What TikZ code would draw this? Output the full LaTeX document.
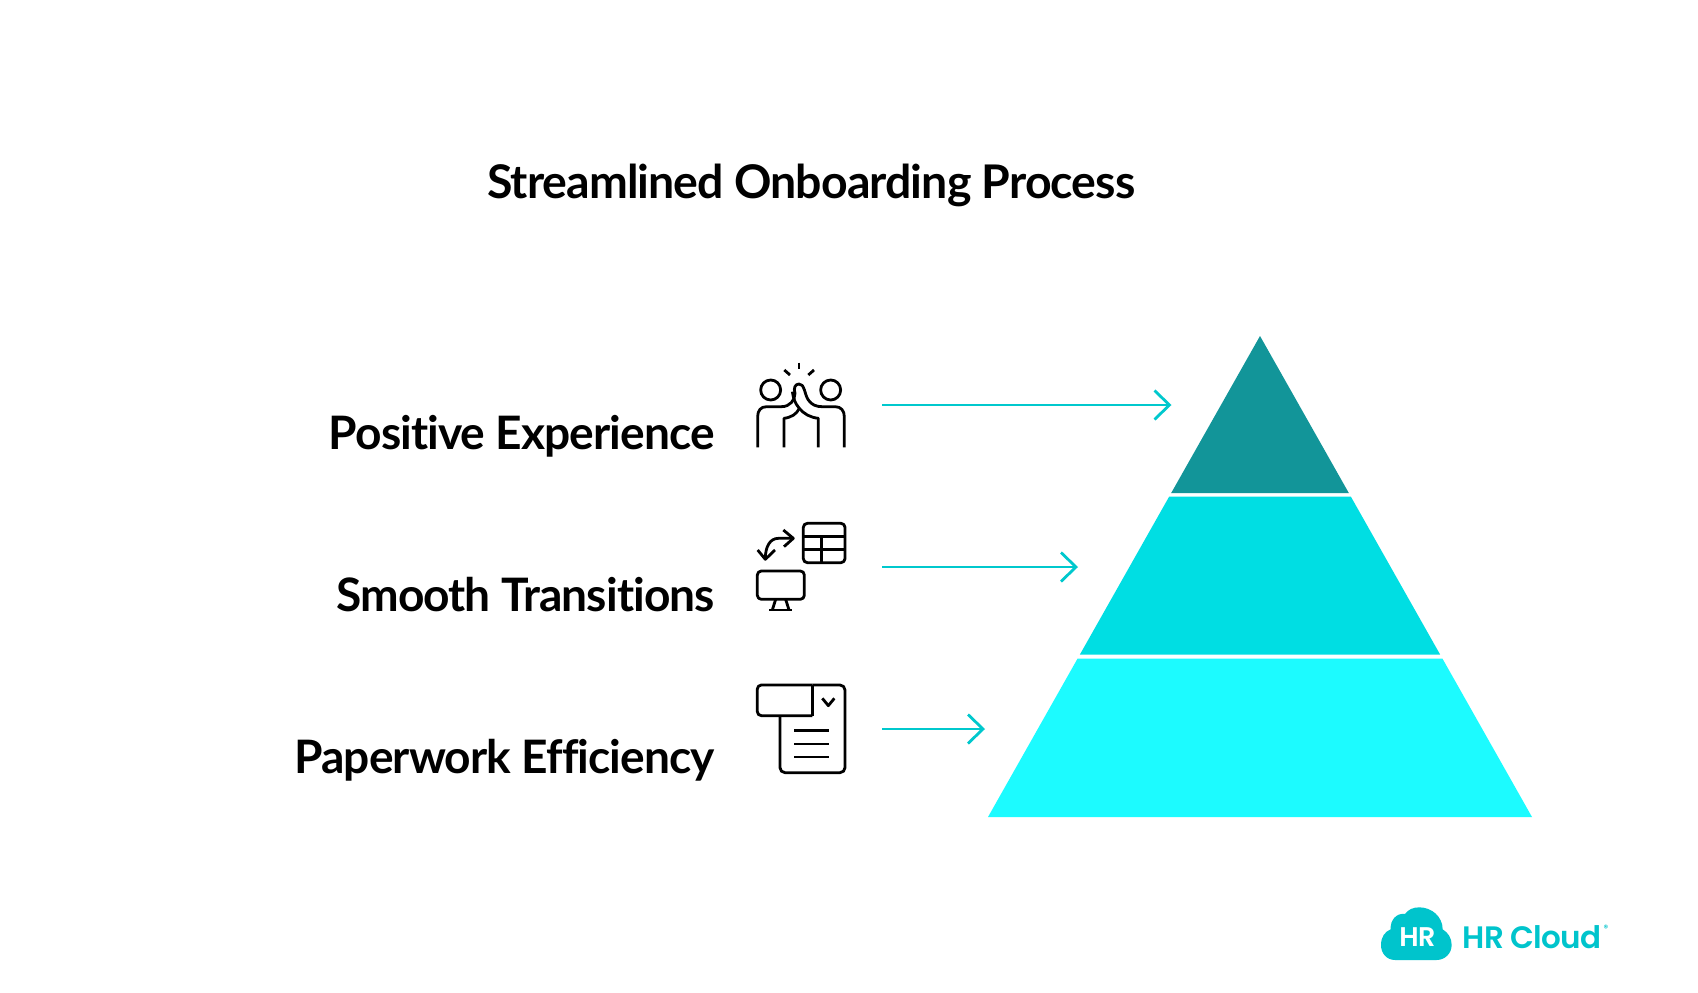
\documentclass[tikz,border=0pt]{standalone}
\usepackage{fontspec}
\setmainfont{Lato}[LetterSpace=-2.0, Ligatures=NoCommon]
\newfontfamily\logofont{Poppins SemiBold}[LetterSpace=-2.5]
\usetikzlibrary{arrows.meta, positioning}
\definecolor{logoteal}{RGB}{0,196,204}
\definecolor{arrowteal}{RGB}{0,200,205}
\definecolor{tierdark}{RGB}{18,149,153}
\definecolor{tiermid}{RGB}{0,222,227}
\definecolor{tierlight}{RGB}{28,251,255}
\tikzset{
    titletext/.style={anchor=base west, font=\bfseries\fontsize{46.4}{50}\selectfont, text=black, inner sep=0pt},
    labeltext/.style={anchor=base east, font=\bfseries\fontsize{46.1}{50}\selectfont, text=black, inner sep=0pt},
    iconline/.style={line width=2.8pt, black, line join=round},
    pointer/.style={line width=2.8pt, arrowteal, -{Straight Barb[length=15pt, width=29pt, line width=2.8pt]}}
}

\begin{document}
\begin{tikzpicture}[x=1pt, y=-1pt]
    \useasboundingbox (0,0) rectangle (1698,993);
    \fill[white] (0,0) rectangle (1698,993);

    % Title
    \node[titletext] (title) at (487,198) {Streamlined Onboarding Process};

    % Pyramid
    \fill[tierdark] (1260,336) -- (1348.8,493) -- (1171.2,493) -- cycle;
    \fill[tiermid] (1169.1,496.7) -- (1350.9,496.7) -- (1440.2,654.7) -- (1079.8,654.7) -- cycle;
    \fill[tierlight] (1077.5,658.7) -- (1442.5,658.7) -- (1532,817) -- (988,817) -- cycle;

    % Labels
    \node[labeltext] (positive) at (715,449.5) {Positive Experience};
    \node[labeltext] (smooth) at (715,611.5) {Smooth Transitions};
    \node[labeltext] (paperwork) at (715,773.5) {Paperwork Efficiency};

    % Pointers
    \coordinate (startA) at (882,405);
    \coordinate (tipA) at (1171.5,405);
    \coordinate (startB) at (882,567);
    \coordinate (tipB) at (1078,567);
    \coordinate (startC) at (882,729);
    \coordinate (tipC) at (985,729);
    \draw[pointer] (startA) -- (tipA);
    \draw[pointer] (startB) -- (tipB);
    \draw[pointer] (startC) -- (tipC);

    % High five icon
    \begin{scope}[shift={(740,340)}, x=0.3333pt, y=-0.3333pt]
        \draw[iconline] (92,150) circle (10pt);
        \draw[iconline] (272,150) circle (10pt);
        \draw[iconline] (53,322) -- (53,230) .. controls (53,212) and (62,200) .. (80,200) -- (125,200) .. controls (150,200) and (165,180) .. (165,160) .. controls (160,145) and (165,132) .. (177,132) .. controls (195,132) and (192,160) .. (205,180) .. controls (215,195) and (230,200) .. (245,200) -- (285,200) .. controls (303,200) and (313,212) .. (313,230) -- (313,322);
        \draw[iconline] (132,322) -- (132,235) .. controls (155,232) and (170,222) .. (178,205) .. controls (165,190) and (160,175) .. (157,155);
        \draw[iconline] (235,322) -- (235,235) .. controls (210,232) and (192,222) .. (178,205);
        \draw[iconline] (177,68) -- (177,88);
        \draw[iconline] (133,90) -- (150,105);
        \draw[iconline] (222,90) -- (205,105);
    \end{scope}

    % Systems icon
    \begin{scope}[shift={(740,510)}, x=0.3333pt, y=-0.3333pt]
        \draw[iconline, rounded corners=4pt] (190,40) rectangle (315,158);
        \draw[iconline] (190,80) -- (315,80);
        \draw[iconline] (190,118) -- (315,118);
        \draw[iconline] (245,80) -- (245,158);
        \draw[iconline, rounded corners=4pt] (52,183) rectangle (193,268);
        \draw[iconline] (107,268) -- (97,300);
        \draw[iconline] (137,268) -- (147,300);
        \draw[iconline] (88,300) -- (157,300);
        \draw[iconline] (158,85) -- (115,85) .. controls (90,85) and (76,110) .. (76,146);
        \draw[iconline] (130,60) -- (160,85) -- (132,110);
        \draw[iconline] (53,120) -- (76,148) -- (105,120);
    \end{scope}

    % Paperwork icon
    \begin{scope}[shift={(740,670)}, x=0.3333pt, y=-0.3333pt]
        \draw[iconline, rounded corners=4pt] (217,45) -- (52,45) -- (52,137) -- (217,137);
        \draw[iconline] (217,45) -- (217,137);
        \draw[iconline, rounded corners=5pt] (217,45) -- (315,45) -- (315,308) -- (120,308) -- (120,137);
        \draw[iconline] (247,85) -- (265,107) -- (283,85);
        \draw[iconline] (163,182) -- (268,182);
        \draw[iconline] (163,222) -- (268,222);
        \draw[iconline] (163,261) -- (268,261);
    \end{scope}

    % Logo
    \begin{scope}[shift={(1370,890)}, x=0.3333pt, y=-0.3333pt]
        \fill[logoteal] (75,210) .. controls (50,210) and (33,190) .. (33,165) .. controls (33,140) and (45,125) .. (62,118) .. controls (60,90) and (80,68) .. (105,72) .. controls (115,58) and (130,52) .. (148,52) .. controls (185,52) and (218,80) .. (218,118) .. controls (235,128) and (245,145) .. (245,165) .. controls (245,190) and (225,210) .. (200,210) -- cycle;
        \node[anchor=base, text=white, inner sep=0pt, font=\logofont\fontsize{27}{30}\selectfont] (logoHR) at (142,169) {HR};
        \node[anchor=base west, text=logoteal, inner sep=0pt, font=\logofont\fontsize{31}{32}\selectfont] (logoname) at (277,175) {HR Cloud};
        \node[anchor=base west, text=logoteal, inner sep=0pt, font=\logofont\fontsize{9}{10}\selectfont] (logomark) at (700,124) {®};
    \end{scope}
\end{tikzpicture}
\end{document}
